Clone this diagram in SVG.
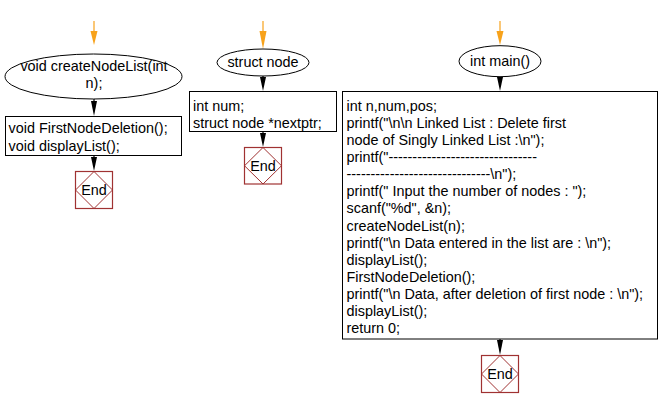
<svg xmlns="http://www.w3.org/2000/svg" width="659" height="408" viewBox="0 0 659 408">
<style>
text{font-family:"Liberation Sans",Arial,sans-serif;font-size:14.4px;fill:#000}
.c{text-anchor:middle}
.shape{fill:#fff;stroke:#000;stroke-width:1}
.endbox{fill:#fff;stroke:#a03232;stroke-width:1.2}
.dia{fill:none;stroke:#a03232;stroke-width:1}
.start{stroke:#f7a21b;stroke-width:1.2;fill:none}
.starth{fill:#f7a21b}
.flow{stroke:#000;stroke-width:1.2;fill:none}
.flowh{fill:#000}
</style>
<rect width="659" height="408" fill="#fff"/>
<g id="connectors">
  <line class="start" x1="94" y1="21" x2="94" y2="34"/>
  <polygon class="starth" points="90.5,31 97.5,31 94,45"/>
  <line class="flow" x1="94" y1="99" x2="94" y2="104"/>
  <polygon class="flowh" points="91,101 97,101 94,116"/>
  <line class="flow" x1="94" y1="156" x2="94" y2="160"/>
  <polygon class="flowh" points="91,157 97,157 94,171"/>

  <line class="start" x1="263" y1="21" x2="263" y2="34"/>
  <polygon class="starth" points="259.5,31 266.5,31 263,49"/>
  <line class="flow" x1="263" y1="76" x2="263" y2="80"/>
  <polygon class="flowh" points="260,77 266,77 263,91"/>
  <line class="flow" x1="263" y1="132" x2="263" y2="136"/>
  <polygon class="flowh" points="260,133 266,133 263,147"/>

  <line class="start" x1="500" y1="21" x2="500" y2="34"/>
  <polygon class="starth" points="496.5,31 503.5,31 500,45"/>
  <line class="flow" x1="500" y1="77" x2="500" y2="80"/>
  <polygon class="flowh" points="497,77 503,77 500,91"/>
  <line class="flow" x1="500" y1="339" x2="500" y2="343"/>
  <polygon class="flowh" points="497,340 503,340 500,355"/>
</g>

<g id="createNodeList">
  <ellipse class="shape" cx="93.5" cy="76.5" rx="88.5" ry="22.5"/>
  <text class="c" x="94" y="70.5">void createNodeList(int</text>
  <text class="c" x="94" y="87.7">n);</text>
</g>
<g id="createNodeList-body">
  <rect class="shape" x="5.5" y="116.5" width="176" height="39"/>
  <text x="8.5" y="133.3">void FirstNodeDeletion();</text>
  <text x="8.5" y="150.5">void displayList();</text>
</g>
<g id="end1">
  <rect class="endbox" x="75.5" y="171.5" width="37" height="37"/>
  <polygon class="dia" points="94,171.5 112.5,190 94,208.5 75.5,190"/>
  <text class="c" x="94" y="195">End</text>
</g>

<g id="structnode">
  <ellipse class="shape" cx="263" cy="62.5" rx="46" ry="13.5"/>
  <text class="c" x="263" y="67">struct node</text>
</g>
<g id="structnode-body">
  <rect class="shape" x="189.5" y="91.5" width="147" height="40"/>
  <text x="193" y="110.5">int num;</text>
  <text x="193" y="127.5">struct node *nextptr;</text>
</g>
<g id="end2">
  <rect class="endbox" x="244.5" y="147.5" width="37" height="36.5"/>
  <polygon class="dia" points="263,147.5 281.5,165.75 263,184 244.5,165.75"/>
  <text class="c" x="263" y="170.5">End</text>
</g>

<g id="main">
  <ellipse class="shape" cx="500" cy="61.2" rx="41" ry="15.5"/>
  <text class="c" x="500" y="66">int main()</text>
</g>
<g id="main-body">
  <rect class="shape" x="342.5" y="91.5" width="315" height="247.5"/>
  <text x="346.5" y="110.5">int n,num,pos;</text>
  <text x="346.5" y="127.65">printf("\n\n Linked List : Delete first</text>
  <text x="346.5" y="144.8">node of Singly Linked List :\n");</text>
  <text x="346.5" y="161.95">printf("-------------------------------</text>
  <text x="346.5" y="179.1">------------------------------\n");</text>
  <text x="346.5" y="196.25">printf(" Input the number of nodes : ");</text>
  <text x="346.5" y="213.4">scanf("%d", &amp;n);</text>
  <text x="346.5" y="230.55">createNodeList(n);</text>
  <text x="346.5" y="247.7">printf("\n Data entered in the list are : \n");</text>
  <text x="346.5" y="264.85">displayList();</text>
  <text x="346.5" y="282">FirstNodeDeletion();</text>
  <text x="346.5" y="299.15">printf("\n Data, after deletion of first node : \n");</text>
  <text x="346.5" y="316.3">displayList();</text>
  <text x="346.5" y="333.45">return 0;</text>
</g>
<g id="end3">
  <rect class="endbox" x="481.5" y="355.5" width="37" height="37"/>
  <polygon class="dia" points="500,355.5 518.5,374 500,392.5 481.5,374"/>
  <text class="c" x="500" y="379">End</text>
</g>
</svg>
